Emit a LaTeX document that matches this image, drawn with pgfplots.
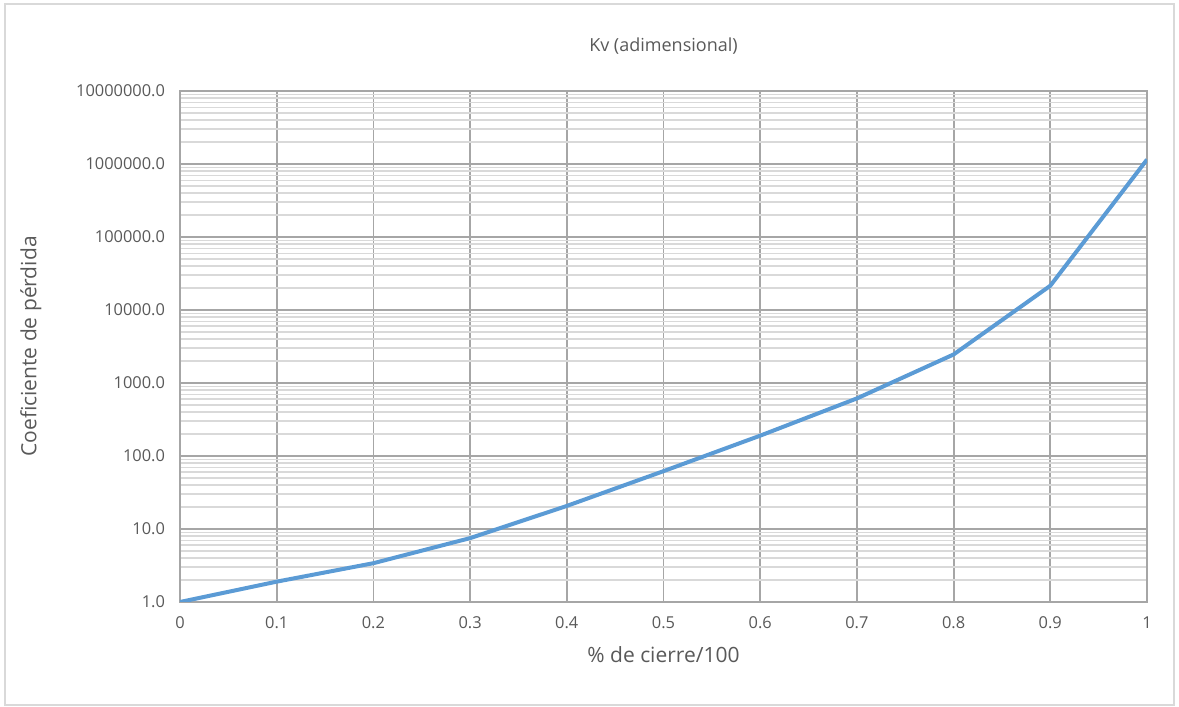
\documentclass[border=0pt]{standalone}
\usepackage{pgfplots}
\pgfplotsset{compat=1.18}
\usepackage{fontspec}
\setmainfont{Open Sans}
\definecolor{linecol}{HTML}{5B9BD5}
\definecolor{majgrid}{HTML}{A6A6A6}
\definecolor{mingrid}{HTML}{D9D9D9}
\definecolor{txt}{HTML}{595959}
\begin{document}
\begin{tikzpicture}
\useasboundingbox (0pt,0pt) rectangle (589.5pt,353.5pt);
\draw[mingrid,line width=0.6pt] (2.5pt,1pt) rectangle (587pt,351.5pt);
\begin{axis}[
  at={(90pt,52.5pt)}, anchor=south west,
  scale only axis, width=483.5pt, height=255.5pt,
  ymode=log,
  xmin=0, xmax=1, ymin=1, ymax=1e7,
  xtick={0,0.1,0.2,0.3,0.4,0.5,0.6,0.7,0.8,0.9,1.0},
  xticklabels={0,0.1,0.2,0.3,0.4,0.5,0.6,0.7,0.8,0.9,1},
  ytick={1,10,100,1000,10000,100000,1000000,10000000},
  yticklabels={1.0,10.0,100.0,1000.0,10000.0,100000.0,1000000.0,10000000.0},
  minor ytick={2,3,4,5,6,7,8,9,
    20,30,40,50,60,70,80,90,
    200,300,400,500,600,700,800,900,
    2000,3000,4000,5000,6000,7000,8000,9000,
    20000,30000,40000,50000,60000,70000,80000,90000,
    200000,300000,400000,500000,600000,700000,800000,900000,
    2000000,3000000,4000000,5000000,6000000,7000000,8000000,9000000},
  log basis y=10,
  grid=both,
  minor x tick num=0,
  major grid style={majgrid,line width=0.9pt},
  minor grid style={mingrid,line width=0.7pt},
  axis line style={majgrid,line width=0.9pt},
  major tick length=0pt, minor tick length=0pt,
  tick label style={font=\fontsize{8.2}{10}\selectfont, text=txt},
  xticklabel style={yshift=-4pt},
  yticklabel style={xshift=-4pt},
  title={Kv (adimensional)},
  title style={font=\fontsize{9}{11}\selectfont, text=txt, at={(0.5,1)}, anchor=south, yshift=9pt},
  xlabel={\% de cierre/100},
  ylabel={Coeficiente de pérdida},
  label style={font=\fontsize{10.5}{12}\selectfont, text=txt},
  xlabel style={yshift=-2pt},
  ylabel style={yshift=10.5pt},
]
\addplot[linecol, line width=2pt, line join=round] coordinates {
 (0,1.0) (0.1,1.9) (0.2,3.4) (0.3,7.5) (0.4,20.7) (0.5,62) (0.6,190) (0.7,615) (0.8,2460) (0.9,21500) (1.0,1150000)
};
\end{axis}
\end{tikzpicture}
\end{document}
